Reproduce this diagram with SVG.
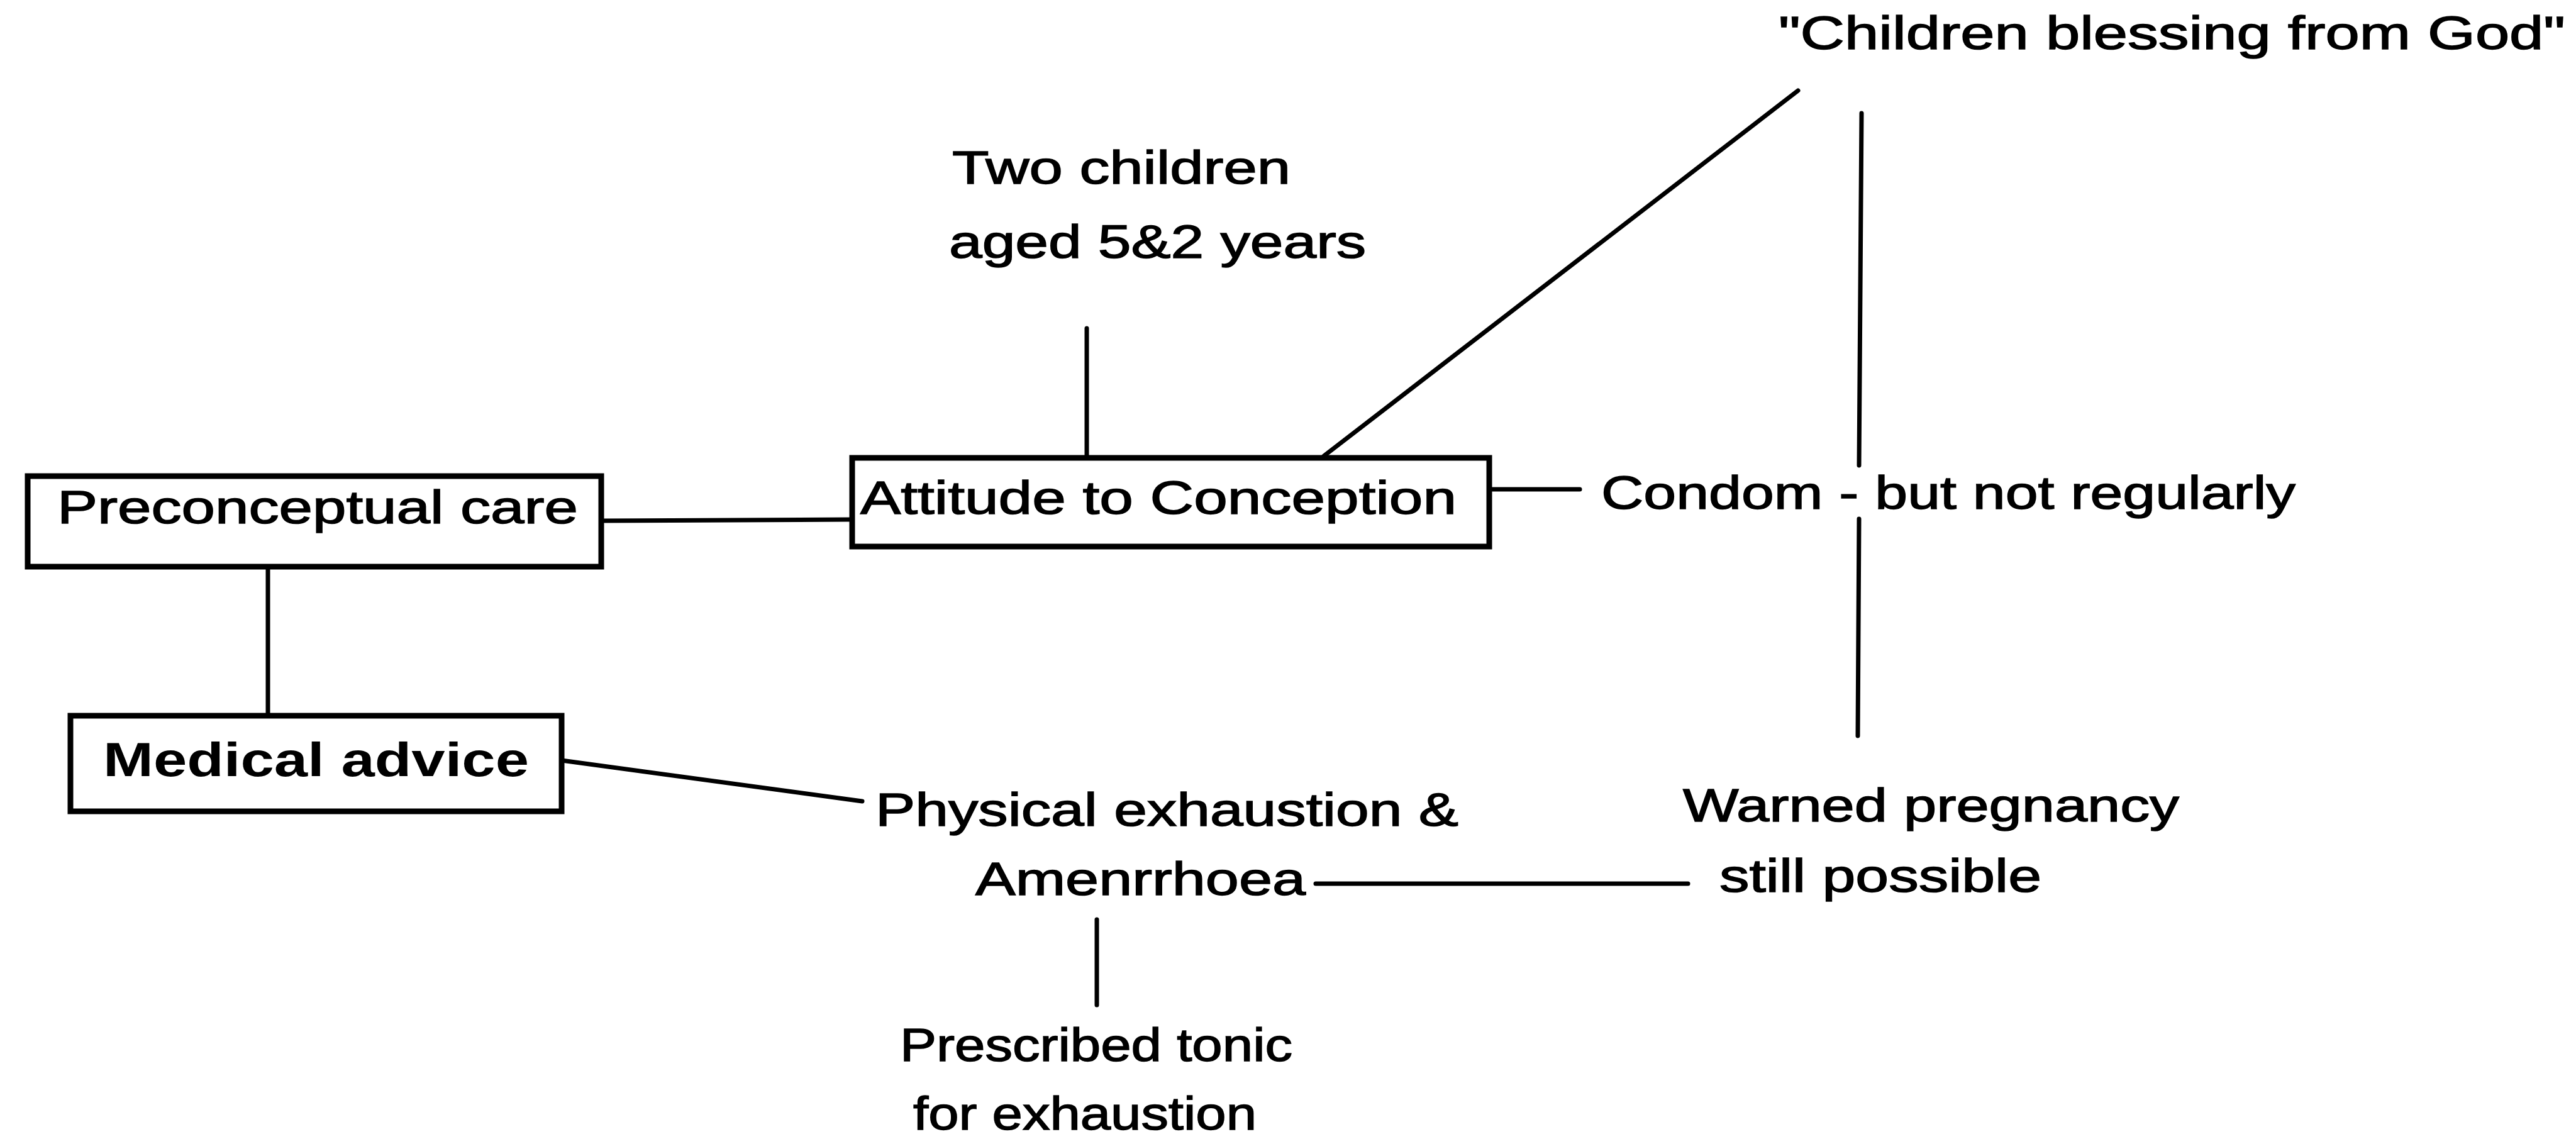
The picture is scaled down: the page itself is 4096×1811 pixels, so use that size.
<svg xmlns="http://www.w3.org/2000/svg" width="4096" height="1811" viewBox="0 0 4096 1811">
<style>
.bg{fill:#fff}
.box{fill:#fff;stroke:#000;stroke-width:9}
.ln{stroke:#000;stroke-width:7;fill:none;stroke-linecap:round}
.t{font-family:"Liberation Sans",Arial,sans-serif;font-size:74px;fill:#000;stroke:#000;stroke-width:1.5}
.tb{font-family:"Liberation Sans",Arial,sans-serif;font-size:76px;fill:#000;font-weight:bold}
</style>
<rect class="bg" x="0" y="0" width="4096" height="1811"/>
<g id="connectors">
<line class="ln" x1="426" y1="901" x2="426" y2="1138"/>
<line class="ln" x1="956" y1="828" x2="1355" y2="826"/>
<line class="ln" x1="1728" y1="522" x2="1728" y2="728"/>
<line class="ln" x1="2105" y1="725" x2="2859" y2="144"/>
<line class="ln" x1="2960" y1="180" x2="2956" y2="740"/>
<line class="ln" x1="2956" y1="825" x2="2954" y2="1170"/>
<line class="ln" x1="2368" y1="778" x2="2512" y2="778"/>
<line class="ln" x1="893" y1="1209" x2="1371" y2="1274"/>
<line class="ln" x1="2092" y1="1405" x2="2684" y2="1405"/>
<line class="ln" x1="1744" y1="1462" x2="1744" y2="1598"/>
</g>
<g id="preconceptual">
<rect class="box" x="44" y="757" width="912" height="144"/>
<text class="t" x="91" y="832" textLength="828" lengthAdjust="spacingAndGlyphs">Preconceptual care</text>
</g>
<g id="medical">
<rect class="box" x="112" y="1138" width="781" height="152"/>
<text class="tb" x="164" y="1234" textLength="677" lengthAdjust="spacingAndGlyphs">Medical advice</text>
</g>
<g id="attitude">
<rect class="box" x="1355" y="728" width="1013" height="141"/>
<text class="t" x="1368" y="817" textLength="948" lengthAdjust="spacingAndGlyphs">Attitude to Conception</text>
</g>
<g id="two-children">
<text class="t" x="1514" y="292" textLength="538" lengthAdjust="spacingAndGlyphs">Two children</text>
<text class="t" x="1509" y="410" textLength="663" lengthAdjust="spacingAndGlyphs">aged 5&amp;2 years</text>
</g>
<g id="blessing">
<text class="t" x="2828" y="78" textLength="1251" lengthAdjust="spacingAndGlyphs">"Children blessing from God"</text>
</g>
<g id="condom">
<text class="t" x="2546" y="809" textLength="1104" lengthAdjust="spacingAndGlyphs">Condom - but not regularly</text>
</g>
<g id="physical">
<text class="t" x="1392" y="1313" textLength="927" lengthAdjust="spacingAndGlyphs">Physical exhaustion &amp;</text>
<text class="t" x="1551" y="1423" textLength="525" lengthAdjust="spacingAndGlyphs">Amenrrhoea</text>
</g>
<g id="warned">
<text class="t" x="2676" y="1306" textLength="789" lengthAdjust="spacingAndGlyphs">Warned pregnancy</text>
<text class="t" x="2734" y="1418" textLength="512" lengthAdjust="spacingAndGlyphs">still possible</text>
</g>
<g id="tonic">
<text class="t" x="1431" y="1687" textLength="624" lengthAdjust="spacingAndGlyphs">Prescribed tonic</text>
<text class="t" x="1452" y="1796" textLength="546" lengthAdjust="spacingAndGlyphs">for exhaustion</text>
</g>
</svg>
